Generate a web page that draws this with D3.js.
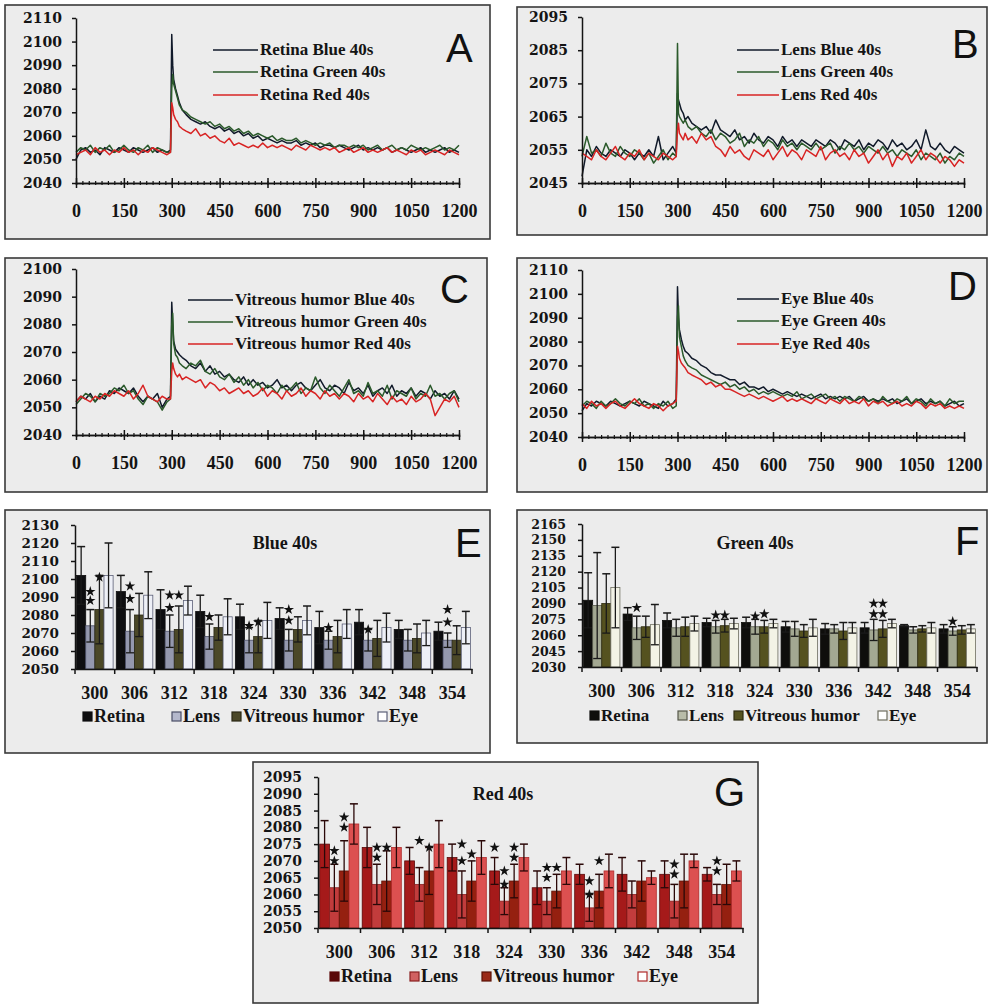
<!DOCTYPE html>
<html>
<head>
<meta charset="utf-8">
<script src="https://cdn.jsdelivr.net/npm/d3@7"></script>
<style>
  body { margin: 0; background: #fff; }
</style>
</head>
<body>
<svg id="fig" width="989" height="1005"></svg>
<script>
// ---- time axis of the traces (s) ----
const times = [0,15,30,45,60,75,90,105,120,135,150,165,180,195,210,225,240,255,270,285,
  296,300,303,306,312,318,324,333,
  345,360,375,390,405,420,435,450,465,480,495,510,525,540,555,570,585,600,615,630,
  645,660,675,690,705,720,735,750,765,780,795,810,825,840,855,870,885,900,915,930,
  945,960,975,990,1005,1020,1035,1050,1065,1080,1095,1110,1125,1140,1155,1170,1185,1200];
const xMajor = [0,150,300,450,600,750,900,1050,1200];

// ---- A: Retina ----
const retinaBlue = [2050,2054,2055,2053,2054,2052,2055,2054,2053,2055,2054,2053,2055,2054,2053,2054,2055,2053,2054,2053,
  2054,2103,2090,2084,2080,2077,2074,2071,
  2069,2067,2066,2065,2066,2064,2063,2064,2062,2063,2061,2062,2060,2061,2059,2060,2058,2059,2058,2057,
  2058,2057,2057,2058,2056,2057,2056,2057,2055,2056,2056,2055,2056,2055,2054,2055,2056,2054,2055,2054,
  2055,2054,2055,2053,2054,2055,2054,2053,2054,2055,2053,2054,2053,2054,2055,2053,2054,2053];
const retinaGreen = [2053,2055,2054,2056,2053,2055,2054,2056,2053,2054,2056,2054,2053,2055,2054,2056,2053,2055,2054,2053,
  2053,2080,2086,2082,2079,2076,2073,2071,
  2070,2068,2067,2066,2065,2066,2064,2065,2063,2064,2062,2063,2061,2062,2060,2061,2060,2059,2060,2058,
  2059,2058,2058,2059,2057,2058,2057,2056,2057,2056,2057,2055,2056,2056,2055,2056,2055,2056,2054,2055,
  2056,2054,2055,2056,2054,2055,2054,2056,2055,2054,2055,2054,2055,2056,2054,2055,2054,2056];
const retinaRed = [2052,2053,2054,2052,2055,2053,2054,2052,2054,2053,2055,2053,2054,2052,2054,2053,2055,2054,2053,2052,
  2053,2074,2072,2069,2067,2066,2064,2063,
  2062,2061,2063,2060,2061,2059,2060,2058,2057,2059,2056,2057,2056,2055,2056,2055,2057,2055,2056,2055,
  2056,2055,2054,2056,2055,2054,2056,2055,2054,2055,2054,2055,2053,2054,2055,2053,2054,2055,2053,2054,
  2053,2054,2055,2053,2054,2053,2052,2054,2053,2054,2052,2053,2054,2053,2052,2054,2053,2052];

// ---- B: Lens ----
const lensBlue = [2047,2055,2053,2056,2054,2053,2055,2054,2053,2055,2054,2052,2054,2053,2055,2053,2059,2052,2054,2056,
  2054,2072,2070,2069,2067,2066,2064,2065,
  2063,2062,2061,2062,2060,2064,2061,2060,2059,2061,2058,2059,2057,2060,2058,2057,2059,2058,2056,2059,
  2057,2058,2056,2058,2057,2056,2058,2057,2056,2058,2057,2055,2058,2057,2056,2058,2055,2057,2056,2058,
  2057,2055,2058,2056,2057,2055,2056,2058,2055,2061,2056,2055,2057,2055,2054,2056,2055,2054];
const lensGreen = [2053,2059,2054,2055,2053,2057,2054,2053,2056,2054,2053,2055,2054,2052,2054,2051,2053,2055,2052,2054,
  2053,2087,2066,2065,2064,2063,2064,2062,
  2061,2062,2060,2059,2061,2058,2060,2059,2057,2058,2060,2056,2058,2057,2059,2056,2058,2057,2055,2058,
  2056,2057,2055,2057,2056,2055,2057,2055,2056,2057,2054,2056,2055,2057,2055,2056,2054,2056,2055,2054,
  2056,2054,2055,2053,2055,2054,2053,2055,2052,2054,2053,2052,2054,2051,2053,2052,2054,2053];
const lensRed = [2054,2053,2052,2055,2053,2052,2054,2056,2053,2052,2054,2053,2055,2052,2054,2053,2052,2054,2053,2052,
  2053,2061,2063,2060,2059,2058,2060,2058,
  2059,2057,2060,2058,2059,2056,2055,2053,2056,2054,2055,2053,2052,2055,2054,2053,2055,2052,2054,2056,
  2053,2055,2054,2052,2055,2054,2053,2056,2052,2054,2055,2053,2054,2052,2055,2053,2054,2051,2053,2055,
  2052,2054,2050,2053,2052,2054,2051,2053,2055,2052,2054,2053,2051,2053,2052,2050,2052,2051];

// ---- C: Vitreous humor ----
const vitBlue = [2052,2054,2053,2055,2052,2054,2053,2056,2055,2057,2056,2055,2057,2054,2052,2054,2053,2055,2050,2053,
  2054,2088,2080,2074,2071,2070,2069,2068,
  2067,2065,2064,2066,2063,2065,2062,2063,2061,2062,2060,2059,2061,2058,2060,2058,2059,2057,2058,2060,
  2057,2058,2056,2058,2059,2057,2056,2058,2060,2057,2056,2058,2057,2055,2059,2056,2057,2055,2058,2054,
  2056,2057,2055,2058,2054,2056,2055,2057,2054,2056,2055,2053,2056,2054,2055,2053,2056,2053];
const vitGreen = [2051,2053,2055,2054,2052,2055,2054,2055,2057,2056,2058,2055,2056,2053,2051,2054,2053,2052,2049,2052,
  2053,2080,2084,2073,2069,2068,2066,2065,
  2064,2066,2065,2067,2063,2062,2064,2061,2060,2062,2059,2061,2058,2060,2057,2059,2056,2058,2057,2055,
  2058,2056,2057,2059,2055,2057,2056,2061,2057,2055,2058,2056,2054,2057,2060,2055,2056,2054,2059,2055,
  2056,2054,2058,2053,2056,2055,2054,2057,2053,2055,2054,2058,2054,2055,2053,2055,2056,2052];
const vitRed = [2052,2054,2053,2052,2054,2053,2055,2054,2056,2055,2054,2056,2053,2055,2058,2054,2053,2052,2054,2053,
  2053,2063,2066,2064,2062,2061,2062,2060,
  2061,2060,2059,2060,2057,2059,2058,2056,2057,2055,2056,2057,2055,2056,2054,2055,2057,2054,2056,2055,
  2053,2056,2054,2055,2057,2054,2056,2055,2053,2056,2054,2055,2053,2055,2054,2052,2055,2053,2054,2052,
  2055,2053,2051,2054,2052,2053,2051,2054,2052,2053,2055,2053,2047,2050,2053,2052,2054,2050];

// ---- D: Eye ----
const eyeBlue = [2051,2054,2053,2055,2054,2053,2055,2054,2053,2054,2055,2054,2053,2055,2054,2053,2052,2055,2053,2054,
  2056,2103,2090,2085,2081,2078,2076,2075,
  2073,2072,2070,2069,2067,2066,2066,2065,2064,2064,2062,2063,2061,2061,2060,2061,2059,2060,2059,2058,
  2059,2058,2057,2058,2057,2056,2057,2058,2056,2057,2056,2057,2056,2057,2055,2056,2057,2055,2056,2055,
  2056,2055,2056,2054,2055,2056,2054,2055,2056,2054,2055,2054,2055,2053,2054,2055,2053,2054];
const eyeGreen = [2053,2055,2054,2052,2055,2053,2054,2056,2054,2053,2055,2054,2056,2053,2054,2052,2054,2053,2055,2052,
  2053,2090,2095,2082,2078,2074,2072,2070,
  2069,2068,2066,2065,2064,2063,2062,2063,2061,2062,2060,2061,2059,2060,2058,2059,2058,2059,2058,2057,
  2058,2057,2059,2056,2057,2058,2056,2057,2058,2056,2057,2055,2057,2056,2055,2057,2056,2055,2056,2054,
  2057,2055,2054,2056,2055,2057,2054,2056,2055,2053,2056,2054,2055,2053,2056,2054,2055,2055];
const eyeRed = [2054,2052,2055,2053,2054,2052,2054,2055,2053,2052,2054,2056,2054,2053,2052,2054,2053,2051,2053,2054,
  2055,2078,2076,2073,2071,2070,2069,2067,
  2066,2065,2064,2062,2063,2061,2062,2060,2060,2059,2058,2057,2058,2057,2056,2057,2056,2055,2056,2057,
  2055,2056,2055,2056,2055,2054,2056,2055,2054,2056,2055,2054,2056,2054,2055,2054,2056,2053,2055,2054,
  2055,2053,2054,2055,2053,2054,2053,2055,2054,2052,2054,2053,2054,2052,2053,2052,2053,2052];

// ---- bar charts E/F/G ----
const groups = ["300","306","312","318","324","330","336","342","348","354"];
const tissues = ["Retina","Lens","Vitreous humor","Eye"];

const blueMean = [[2102,2074,2083,2102],[2093,2071,2080,2091],[2083,2071,2072,2088],[2082,2068,2073,2079],
  [2079,2066,2068,2077],[2078,2066,2072,2077],[2073,2066,2068,2075],[2076,2066,2067,2073],
  [2072,2066,2067,2070],[2071,2066,2066,2073]];
const blueErr = [[16,9,19,18],[9,12,12,13],[11,9,13,8],[9,7,7,10],[7,7,9,10],
  [6,6,7,8],[9,5,9,8],[7,6,10,8],[5,6,8,7],[5,4,8,9]];
const blueStars = [[0,1,2093],[0,1,2088],[0,2,2101],[1,1,2096],[1,1,2089],[2,1,2091],[2,2,2091],[2,1,2084],
  [3,1,2079],[4,1,2074],[4,2,2076],[5,1,2083],[5,1,2077],[6,1,2073],[7,1,2072],[9,1,2083],[9,1,2076]];

const greenMean = [[2093,2088,2090,2105],[2080,2067,2068,2070],[2074,2067,2068,2071],[2072,2068,2069,2071],
  [2072,2068,2068,2071],[2068,2066,2064,2067],[2066,2066,2064,2067],[2067,2065,2066,2071],
  [2069,2065,2066,2067],[2066,2064,2065,2066]];
const greenErr = [[26,50,28,38],[6,11,10,19],[7,8,9,7],[4,6,6,5],[5,7,6,4],
  [5,7,6,8],[5,4,8,5],[5,10,8,4],[1,3,3,5],[4,4,4,4]];
const greenStars = [[1,1,2086],[3,1,2079],[3,2,2079],[4,1,2078],[4,2,2080],[7,1,2090],[7,2,2090],
  [7,1,2080],[7,2,2080],[9,1,2073]];

const redMean = [[2075,2062,2067,2081],[2074,2063,2064,2074],[2070,2063,2067,2075],[2071,2060,2064,2071],
  [2067,2058,2064,2071],[2062,2058,2061,2067],[2066,2056,2061,2067],[2066,2060,2064,2065],
  [2066,2058,2064,2070],[2066,2060,2063,2067]];
const redErr = [[7,7,9,6],[6,6,9,6],[4,5,7,7],[4,7,6,5],[4,4,5,4],
  [5,4,5,4],[3,4,5,5],[5,4,6,2],[4,5,8,2],[2,3,6,3]];
const redStars = [[0,1,2073],[0,1,2070],[0,2,2083],[0,2,2080],[1,1,2074],[1,2,2074],[1,1,2071],[2,1,2076],
  [2,2,2074],[3,1,2075],[3,2,2072],[3,1,2070],[4,0,2074],[4,2,2074],[4,2,2071],[4,1,2067],[4,1,2063],
  [5,1,2068],[5,2,2068],[5,1,2065],[6,2,2070],[6,1,2064],[6,1,2060],[8,1,2069],[8,1,2066],[9,1,2070],[9,1,2067]];

// fonts
const serif = '"Liberation Serif","Times New Roman",serif';
const wide = '"DejaVu Serif",serif';
const sans = '"Liberation Sans",Arial,sans-serif';
const ink = "#141414";
const lineCols = { blue: "#111a2a", green: "#2b5a2b", red: "#d82424" };

const svg = d3.select("#fig");

function panelBox(box) {
  svg.append("rect")
    .attr("x", box[0]).attr("y", box[1])
    .attr("width", box[2] - box[0]).attr("height", box[3] - box[1])
    .attr("fill", "#ececec").attr("stroke", "#3a3a3a").attr("stroke-width", 1.6);
}

function letter(txt, x, y) {
  svg.append("text").attr("x", x).attr("y", y)
    .attr("font-family", sans).attr("font-size", 40).attr("fill", "#111").text(txt);
}

function styleAxis(a) {
  a.selectAll("path, line").attr("stroke", ink).attr("stroke-width", 1.5);
  a.selectAll("text").attr("fill", ink);
}

function yAxis(y, left, ticks, fontSize, pad) {
  const a = svg.append("g")
    .attr("transform", `translate(${left},0)`)
    .call(d3.axisLeft(y).tickValues(ticks).tickSize(4).tickSizeOuter(0).tickPadding(pad).tickFormat(d3.format("d")))
    .attr("font-family", wide).attr("font-size", fontSize).attr("font-weight", "bold");
  styleAxis(a);
}

function linePanel(p) {
  panelBox(p.box);
  const x = d3.scaleLinear().domain([0, 1200]).range([p.left, p.right]);
  const y = d3.scaleLinear().domain(p.yDomain).range([p.bottom, p.top]);

  const line = d3.line()
    .defined((d, i) => i < times.length)
    .x((d, i) => x(times[i]))
    .y(d => y(d));

  p.series.forEach(s => {
    svg.append("path").datum(s.values)
      .attr("fill", "none").attr("stroke", s.color).attr("stroke-width", 1.5)
      .attr("stroke-linejoin", "round").attr("d", line);
  });

  yAxis(y, p.left, d3.range(p.yDomain[0], p.yDomain[1] + 1, p.yStep), 14, 10);

  // minor ticks every 30 s
  const minor = svg.append("g").attr("transform", `translate(0,${p.bottom})`)
    .call(d3.axisBottom(x).ticks(40).tickSize(2).tickFormat(""));
  minor.selectAll(".tick line").attr("y1", -2).attr("y2", 2);
  styleAxis(minor);
  minor.selectAll("line").attr("stroke-width", 1.2);

  const major = svg.append("g").attr("transform", `translate(0,${p.bottom})`)
    .call(d3.axisBottom(x).tickValues(xMajor).tickSize(5).tickSizeOuter(0).tickPadding(16).tickFormat(d3.format("d")))
    .attr("font-family", serif).attr("font-size", 18).attr("font-weight", "bold");
  major.selectAll(".tick line").attr("y1", -5).attr("y2", 5);
  styleAxis(major);

  // legend
  p.series.forEach((s, i) => {
    const ly = p.legend.rows[i];
    svg.append("line").attr("x1", p.legend.x1).attr("x2", p.legend.x2)
      .attr("y1", ly).attr("y2", ly).attr("stroke", s.color).attr("stroke-width", 1.6);
    svg.append("text").attr("x", p.legend.x2 + 2).attr("y", ly + 5)
      .attr("font-family", serif).attr("font-weight", "bold").attr("font-size", 17)
      .attr("fill", ink).text(s.name);
  });
  letter(p.letter[0], p.letter[1], p.letter[2]);
}

const starSym = d3.symbol().type(d3.symbolStar).size(34);

function barPanel(p) {
  panelBox(p.box);
  const x0 = d3.scaleBand().domain(groups).range([p.left, p.right]).paddingInner(0.08).paddingOuter(0.04);
  const x1 = d3.scaleBand().domain(tissues).range([0, x0.bandwidth()]);
  const y = d3.scaleLinear().domain(p.yDomain).range([p.bottom, p.top]);
  const yMin = p.yDomain[0];

  const g = svg.selectAll(null).data(groups).enter().append("g")
    .attr("transform", d => `translate(${x0(d)},0)`);

  g.each(function (grp, gi) {
    const sel = d3.select(this);
    tissues.forEach((t, ti) => {
      const m = p.mean[gi][ti], e = p.err[gi][ti];
      sel.append("rect")
        .attr("x", x1(t)).attr("y", y(m))
        .attr("width", x1.bandwidth()).attr("height", y(yMin) - y(m))
        .attr("fill", p.fills[ti]).attr("stroke", p.strokes[ti]).attr("stroke-width", 0.8);
      const cx = x1(t) + x1.bandwidth() / 2;
      const lo = y(Math.max(yMin, m - e)), hi = y(m + e);
      sel.append("line").attr("x1", cx).attr("x2", cx).attr("y1", lo).attr("y2", hi)
        .attr("stroke", p.errColor).attr("stroke-width", 1.3);
      sel.append("line").attr("x1", cx - 4).attr("x2", cx + 4).attr("y1", hi).attr("y2", hi)
        .attr("stroke", p.errColor).attr("stroke-width", 1.5);
      if (m - e > yMin) {
        sel.append("line").attr("x1", cx - 4).attr("x2", cx + 4).attr("y1", lo).attr("y2", lo)
          .attr("stroke", p.errColor).attr("stroke-width", 1.3);
      }
    });
  });

  // significance stars
  svg.selectAll(null).data(p.stars).enter().append("path")
    .attr("d", starSym)
    .attr("transform", d => `translate(${x0(groups[d[0]]) + x1(tissues[d[1]]) + x1.bandwidth() / 2},${y(d[2])})`)
    .attr("fill", "#111");

  yAxis(y, p.left, d3.range(p.yDomain[0], p.yDomain[1] + 1, p.yStep), p.yFont, 12);

  // x axis: labels under groups, ticks on group boundaries
  const xa = svg.append("g").attr("transform", `translate(0,${p.bottom})`)
    .call(d3.axisBottom(x0).tickSize(0).tickSizeOuter(0).tickPadding(17))
    .attr("font-family", serif).attr("font-size", 18).attr("font-weight", "bold");
  styleAxis(xa);
  const step = x0.step();
  const bounds = groups.map(d => x0(d) - (step - x0.bandwidth()) / 2).concat([p.right]);
  svg.append("g").selectAll("line").data(bounds).enter().append("line")
    .attr("x1", d => d).attr("x2", d => d).attr("y1", p.bottom).attr("y2", p.bottom + 5)
    .attr("stroke", ink).attr("stroke-width", 1.5);

  // title
  svg.append("text").attr("x", p.title[1]).attr("y", p.title[2]).attr("text-anchor", "middle")
    .attr("font-family", serif).attr("font-weight", "bold").attr("font-size", 18).attr("fill", ink)
    .text(p.title[0]);

  // legend
  tissues.forEach((t, ti) => {
    const lx = p.legendX[ti], ly = p.legendY;
    svg.append("rect").attr("x", lx).attr("y", ly - 10).attr("width", 9).attr("height", 9)
      .attr("fill", p.legendFills[ti]).attr("stroke", p.strokes[ti]).attr("stroke-width", 1.2);
    svg.append("text").attr("x", lx + 11).attr("y", ly)
      .attr("font-family", serif).attr("font-weight", "bold").attr("font-size", p.legendFont).attr("fill", ink)
      .text(t);
  });
  letter(p.letter[0], p.letter[1], p.letter[2]);
}

linePanel({
  box: [5, 5, 490, 239], left: 76, right: 459, top: 18, bottom: 183,
  yDomain: [2040, 2110], yStep: 10,
  series: [
    { name: "Retina Blue 40s", values: retinaBlue, color: lineCols.blue },
    { name: "Retina Green 40s", values: retinaGreen, color: lineCols.green },
    { name: "Retina Red 40s", values: retinaRed, color: lineCols.red }],
  legend: { x1: 213, x2: 258, rows: [50, 72, 95] },
  letter: ["A", 446, 62]
});

linePanel({
  box: [517, 7, 987, 235], left: 582, right: 964, top: 17, bottom: 183,
  yDomain: [2045, 2095], yStep: 10,
  series: [
    { name: "Lens Blue 40s", values: lensBlue, color: lineCols.blue },
    { name: "Lens Green 40s", values: lensGreen, color: lineCols.green },
    { name: "Lens Red 40s", values: lensRed, color: lineCols.red }],
  legend: { x1: 737, x2: 779, rows: [50, 72, 95] },
  letter: ["B", 952, 58]
});

linePanel({
  box: [5, 258, 487, 492], left: 76, right: 459, top: 269, bottom: 435,
  yDomain: [2040, 2100], yStep: 10,
  series: [
    { name: "Vitreous humor Blue 40s", values: vitBlue, color: lineCols.blue },
    { name: "Vitreous humor Green 40s", values: vitGreen, color: lineCols.green },
    { name: "Vitreous humor Red 40s", values: vitRed, color: lineCols.red }],
  legend: { x1: 188, x2: 233, rows: [300, 322, 344] },
  letter: ["C", 440, 303]
});

linePanel({
  box: [517, 258, 987, 492], left: 582, right: 964, top: 270, bottom: 437,
  yDomain: [2040, 2110], yStep: 10,
  series: [
    { name: "Eye Blue 40s", values: eyeBlue, color: lineCols.blue },
    { name: "Eye Green 40s", values: eyeGreen, color: lineCols.green },
    { name: "Eye Red 40s", values: eyeRed, color: lineCols.red }],
  legend: { x1: 737, x2: 779, rows: [299, 321, 344] },
  letter: ["D", 948, 300]
});

barPanel({
  box: [5, 510, 490, 753], left: 75, right: 472, top: 525, bottom: 669,
  yDomain: [2050, 2130], yStep: 10, yFont: 13.5,
  mean: blueMean, err: blueErr, stars: blueStars,
  fills: ["#0e0e10", "#9498ae", "#4b4828", "#eef0f7"],
  legendFills: ["#0e0e10", "#b4b8cc", "#4b4828", "#ffffff"],
  strokes: ["#0e0e10", "#4a4e66", "#2a2814", "#5c6078"],
  errColor: "#1a1a1a",
  title: ["Blue 40s", 285, 549],
  legendX: [83, 172, 232, 378], legendY: 722, legendFont: 18,
  letter: ["E", 455, 557]
});

barPanel({
  box: [517, 510, 987, 743], left: 582, right: 977, top: 524, bottom: 667,
  yDomain: [2030, 2165], yStep: 15, yFont: 12.5,
  mean: greenMean, err: greenErr, stars: greenStars,
  fills: ["#0e0e0c", "#a3a892", "#55521f", "#f3f3e6"],
  legendFills: ["#0e0e0c", "#b8bca8", "#55521f", "#ffffff"],
  strokes: ["#0e0e0c", "#55584a", "#2e2c10", "#6e6e60"],
  errColor: "#1a1a1a",
  title: ["Green 40s", 755, 549],
  legendX: [590, 678, 734, 878], legendY: 721, legendFont: 17,
  letter: ["F", 955, 555]
});

barPanel({
  box: [253, 762, 758, 1003], left: 318, right: 743, top: 777, bottom: 928,
  yDomain: [2050, 2095], yStep: 5, yFont: 14,
  mean: redMean, err: redErr, stars: redStars,
  fills: ["#a51a1a", "#c23c3c", "#952010", "#dc5050"],
  legendFills: ["#5a0808", "#d06060", "#9a2a18", "#ffffff"],
  strokes: ["#5a0808", "#8a2020", "#5a1206", "#b02a2a"],
  errColor: "#2a0808",
  title: ["Red 40s", 503, 800],
  legendX: [330, 410, 482, 638], legendY: 982, legendFont: 18,
  letter: ["G", 714, 806]
});
</script>
</body>
</html>
